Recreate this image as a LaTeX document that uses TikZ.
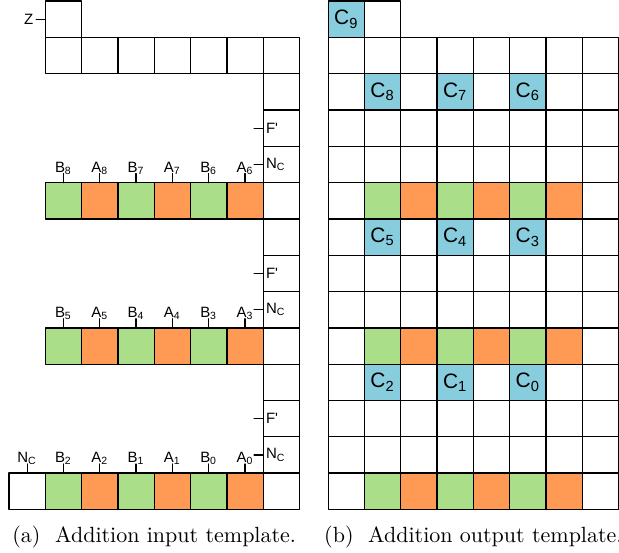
\documentclass[tikz,border=0pt]{standalone}
\usepackage{fontspec}
\newfontfamily\helv{Liberation Sans}
\definecolor{addgreen}{RGB}{170,222,136}
\definecolor{addorange}{RGB}{255,154,84}
\definecolor{addblue}{RGB}{136,205,221}

\begin{document}
\begin{tikzpicture}[line cap=round,line join=round,x=16.5pt,y=16.5pt,semithick,
  tag/.style={font=\helv\fontsize{6.8}{7}\selectfont,inner sep=1pt},
  tagup/.style={tag,anchor=base,yshift=0.6pt},
  carry/.style={font=\helv\fontsize{9.5}{10}\selectfont,inner sep=0pt}]
\useasboundingbox (-0.248,-1.185) rectangle (16.80,14.03);
% (a) input template
\draw (1,13) rectangle (2,14);
\draw (1,13.5)--(0.75,13.5) node[tag,left] (z) {Z};
\foreach \c in {1,...,7} \draw (\c,12) rectangle ++(1,1);
\foreach \y in {0,...,11} \draw (7,\y) rectangle ++(1,1);
\draw (0,0) rectangle (1,1);
\foreach \y in {0,4,8} {
  \foreach \c in {1,3,5} \draw[fill=addgreen] (\c,\y) rectangle ++(1,1);
  \foreach \c in {2,4,6} \draw[fill=addorange] (\c,\y) rectangle ++(1,1);
}
\foreach \y in {1,5,9} {
  \draw (7,\y+1.5)--(6.75,\y+1.5);
  \node[tag,right] (f\y) at (7,\y+1.5) {F'};
  \draw (7,\y+0.5)--(6.75,\y+0.5);
  \node[tag,right] (nc\y) at (7,\y+0.5) {N\textsubscript{C}};
}
\foreach \y/\i in {0/0,4/3,8/6} \foreach \c in {1,3,5} {
  \pgfmathtruncatemacro\k{\i+(5-\c)/2}
  \draw (\c+0.5,\y+1)--++(0,0.25) node[tagup] (b\k) {B\textsubscript{\k}};
  \draw (\c+1.5,\y+1)--++(0,0.25) node[tagup] (a\k) {A\textsubscript{\k}};
}
\draw (0.5,1)--(0.5,1.25) node[tagup] (nc) {N\textsubscript{C}};
\node[anchor=base] (capa) at (4,-0.9) {(a)~ Addition input template.};
% (b) output template
\begin{scope}[shift={(8.79,0)}]
\draw[fill=addblue] (0,13) rectangle (1,14);
\node[carry] (c9) at (0.5,13.5) {C\textsubscript{9}};
\draw (1,13) rectangle (2,14);
\foreach \y in {0,...,12} \foreach \c in {0,...,7} \draw (\c,\y) rectangle ++(1,1);
\foreach \y in {0,4,8} {
  \foreach \c in {1,3,5} \draw[fill=addgreen] (\c,\y) rectangle ++(1,1);
  \foreach \c in {2,4,6} \draw[fill=addorange] (\c,\y) rectangle ++(1,1);
}
\foreach \y/\i in {3/0,7/3,11/6} \foreach \c in {1,3,5} {
  \pgfmathtruncatemacro\k{\i+(5-\c)/2}
  \draw[fill=addblue] (\c,\y) rectangle ++(1,1);
  \node[carry] (c\k) at (\c+0.5,\y+0.5) {C\textsubscript{\k}};
}
\node[anchor=base] (capb) at (4,-0.9) {(b)~ Addition output template.};
\end{scope}
\end{tikzpicture}
\end{document}
